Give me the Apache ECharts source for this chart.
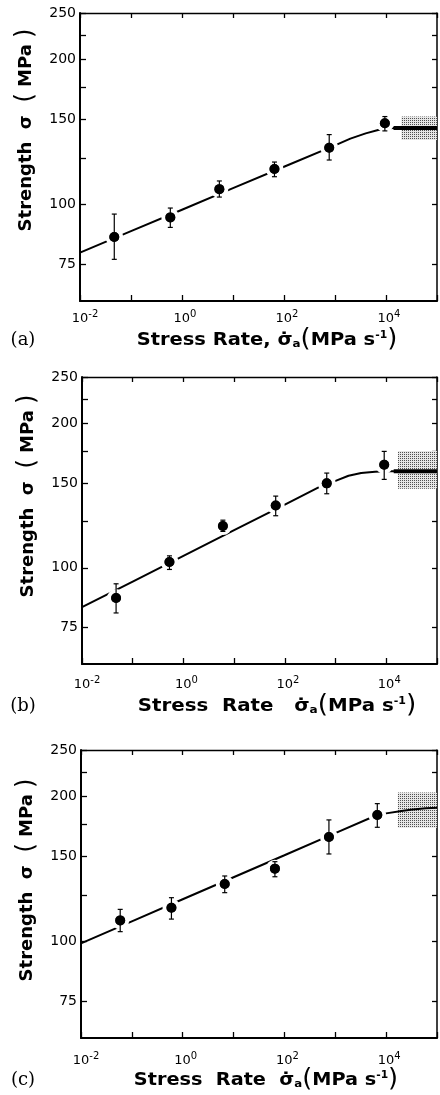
<!DOCTYPE html>
<html><head><meta charset="utf-8">
<script src="https://cdn.jsdelivr.net/npm/echarts@6/dist/echarts.min.js"></script>
<style>html,body{margin:0;padding:0;background:#fff}#c{width:440px;height:1095px}</style>
</head><body><div id="c"></div>
<script>
// ---------- Panel (a) ----------
const aRate = [0.047, 0.59, 5.4, 65, 770, 9500];
const aStrength = [85.6, 94.0, 107.6, 118.5, 131.2, 147.5];
const aLow = [76.9, 89.6, 103.6, 114.2, 123.7, 142.2];
const aHigh = [95.5, 98.3, 111.9, 122.5, 139.7, 152.3];
const aCurveRate = [0.01, 0.1, 1, 10, 100, 1000, 2000, 4000, 7000, 10000, 14000, 100000];
const aCurveStrength = [79.4, 88.0, 97.5, 108.1, 119.8, 132.7, 137.0, 140.5, 142.8, 143.8, 144.2, 144.2];
const aBoxRate = [20000, 100000];
const aBoxStrength = [136.1, 152.3];
const aPlateauRate = [14000, 100000];
const aPlateauStrength = [144.2, 144.2];

// ---------- Panel (b) ----------
const bRate = [0.047, 0.53, 6.0, 66, 670, 9100];
const bStrength = [86.5, 102.8, 122.2, 134.9, 150.0, 164.0];
const bLow = [80.5, 99.2, 119.1, 128.4, 142.7, 152.9];
const bHigh = [92.6, 105.9, 125.7, 141.1, 157.6, 174.9];
const bCurveRate = [0.01, 0.1, 1, 10, 100, 630, 1000, 1800, 3200, 6000, 10000, 100000];
const bCurveStrength = [82.8, 93.6, 105.9, 119.8, 135.5, 149.6, 151.8, 155.6, 157.6, 158.6, 158.9, 158.9];
const bBoxRate = [17000, 100000];
const bBoxStrength = [146.2, 175.2];
const bPlateauRate = [14000, 100000];
const bPlateauStrength = [158.9, 158.9];

// ---------- Panel (c) ----------
const cRate = [0.059, 0.60, 6.7, 65, 750, 6700];
const cStrength = [110.6, 117.5, 131.6, 141.7, 164.9, 183.2];
const cLow = [104.8, 111.3, 126.3, 136.3, 152.0, 172.7];
const cHigh = [116.6, 123.3, 136.8, 146.5, 178.9, 193.4];
const cCurveRate = [0.01, 0.1, 1, 10, 100, 1000, 6300, 10000, 20000, 30000, 60000, 100000];
const cCurveStrength = [99.1, 110.1, 122.4, 136.0, 151.1, 167.9, 182.7, 184.6, 186.8, 187.8, 189.2, 189.7];
const cBoxRate = [17000, 100000];
const cBoxStrength = [172.4, 203.9];

// ---------- Axes ----------
const xRange = [0.01, 100000];
const yRange = [63, 250];
const yTickLabels = [75, 100, 150, 200, 250];
const yTickMarks = [75, 100, 125, 150, 175, 200, 225, 250];
const panelLabels = ['(a)', '(b)', '(c)'];
const yTitle = 'Strength  σ  ';
const xTitles = ['Stress Rate, ', 'Stress  Rate   ', 'Stress  Rate  '];

const chart = echarts.init(document.getElementById('c'), null, {renderer: 'canvas'});

// stipple pattern
const pc = document.createElement('canvas');
pc.width = 2; pc.height = 2;
const pctx = pc.getContext('2d');
pctx.fillStyle = '#e6e6e6'; pctx.fillRect(0, 0, 2, 2);
pctx.fillStyle = '#505050'; pctx.fillRect(0, 0, 1, 1);
const stipple = {image: pc, repeat: 'repeat'};

const grids = [
  {left: 80, top: 13, width: 359, height: 288},
  {left: 82, top: 377, width: 357, height: 287},
  {left: 81, top: 750, width: 357, height: 288}
];
const xLabelMargins = [8, 11, 13];

const FONT = 'DejaVu Sans';
const xAxes = [], yAxes = [];
grids.forEach((g, i) => {
  xAxes.push({
    gridIndex: i, type: 'log', logBase: 10, min: xRange[0], max: xRange[1], position: 'bottom',
    axisLine: {lineStyle: {color: '#000', width: 2}},
    axisTick: {inside: true, length: 6, lineStyle: {color: '#000', width: 1.3}},
    splitLine: {show: false},
    axisLabel: {
      margin: xLabelMargins[i], color: '#000',
      formatter: v => {
        const e = Math.round(Math.log10(v));
        if (e % 2 !== 0) return '';
        return '{' + (e < 0 ? 'w2' : 'w1') + '| }{b|10}{s|' + e + '}';
      },
      rich: {
        w1: {width: 6, fontSize: 10},
        w2: {width: 10, fontSize: 10},
        b: {fontSize: 13, fontFamily: FONT, color: '#000'},
        s: {fontSize: 10, fontFamily: FONT, color: '#000', padding: [0, 0, 9, 0]}
      }
    }
  });
  xAxes.push({
    gridIndex: i, type: 'log', logBase: 10, min: xRange[0], max: xRange[1], position: 'top',
    axisLine: {lineStyle: {color: '#000', width: 1.3}},
    axisTick: {inside: true, length: 5, lineStyle: {color: '#000', width: 1.3}},
    axisLabel: {show: false}, splitLine: {show: false}
  });
  yAxes.push({
    gridIndex: i, type: 'log', logBase: 10, min: yRange[0], max: yRange[1], position: 'left',
    axisLine: {lineStyle: {color: '#000', width: 2}},
    axisTick: {inside: true, length: 6, customValues: yTickMarks, lineStyle: {color: '#000', width: 1.3}},
    axisLabel: {customValues: yTickLabels, margin: 4, color: '#000', fontSize: 14, fontFamily: FONT},
    splitLine: {show: false}
  });
  yAxes.push({
    gridIndex: i, type: 'log', logBase: 10, min: yRange[0], max: yRange[1], position: 'right',
    axisLine: {lineStyle: {color: '#000', width: 1.5}},
    axisTick: {inside: true, length: 5, customValues: yTickMarks, lineStyle: {color: '#000', width: 1.3}},
    axisLabel: {show: false}, splitLine: {show: false}
  });
});

function zip(xs, ys) { return xs.map((x, i) => [x, ys[i]]); }

function panelSeries(i, rate, strength, low, high, cRate_, cStr_, boxRate, boxStr, platRate, platStr) {
  const ax = {xAxisIndex: i * 2, yAxisIndex: i * 2};
  const s = [];
  s.push(Object.assign({
    type: 'line', data: zip(cRate_, cStr_), showSymbol: false, smooth: false,
    lineStyle: {color: '#000', width: 2}, z: 2, silent: true,
    markArea: {silent: true, itemStyle: {color: stipple},
      data: [[{coord: [boxRate[0], boxStr[0]]}, {coord: [boxRate[1], boxStr[1]]}]]}
  }, ax));
  if (platRate) {
    s.push(Object.assign({
      type: 'line', data: zip(platRate, platStr), showSymbol: false,
      lineStyle: {color: '#000', width: 4}, z: 3, silent: true
    }, ax));
  }
  s.push(Object.assign({
    type: 'scatter', data: zip(rate, strength), symbol: 'circle', symbolSize: 14,
    itemStyle: {color: '#000', borderColor: '#fff', borderWidth: 4, opacity: 1}, z: 4
  }, ax));
  s.push(Object.assign({
    type: 'custom', z: 5,
    data: rate.map((x, k) => [x, low[k], high[k]]),
    encode: {x: 0, y: [1, 2]},
    renderItem: (params, api) => {
      const p1 = api.coord([api.value(0), api.value(1)]);
      const p2 = api.coord([api.value(0), api.value(2)]);
      const w = 2.5, st = {stroke: '#000', lineWidth: 1.2};
      return {type: 'group', children: [
        {type: 'line', shape: {x1: p1[0], y1: p1[1], x2: p2[0], y2: p2[1]}, style: st},
        {type: 'line', shape: {x1: p1[0] - w, y1: p1[1], x2: p1[0] + w, y2: p1[1]}, style: st},
        {type: 'line', shape: {x1: p2[0] - w, y1: p2[1], x2: p2[0] + w, y2: p2[1]}, style: st}
      ]};
    }
  }, ax));
  s.push(Object.assign({
    type: 'scatter', data: zip(rate, strength), symbol: 'circle', symbolSize: 10,
    itemStyle: {color: '#000'}, z: 6
  }, ax));
  return s;
}

const series = [].concat(
  panelSeries(0, aRate, aStrength, aLow, aHigh, aCurveRate, aCurveStrength, aBoxRate, aBoxStrength, aPlateauRate, aPlateauStrength),
  panelSeries(1, bRate, bStrength, bLow, bHigh, bCurveRate, bCurveStrength, bBoxRate, bBoxStrength, bPlateauRate, bPlateauStrength),
  panelSeries(2, cRate, cStrength, cLow, cHigh, cCurveRate, cCurveStrength, cBoxRate, cBoxStrength, null, null)
);

const titleRich = {
  t: {fontSize: 18, fontWeight: 'bold', fontFamily: FONT, color: '#000'},
  p: {fontSize: 24, fontWeight: 'normal', fontFamily: FONT, color: '#000'},
  sub: {fontSize: 11, fontWeight: 'bold', fontFamily: FONT, color: '#000', padding: [9, 0, 0, 0]},
  sup: {fontSize: 10, fontWeight: 'bold', fontFamily: FONT, color: '#000', padding: [0, 0, 9, 0]}
};

const yNamePos = [[26, 130], [28, 496], [27, 880]];
const xNamePos = [[267, 340], [277, 706], [266, 1080]];
const xNameScale = [1.08, 1.1, 1.07];
const labelPos = [[23, 340], [23, 706], [23, 1080]];
const graphics = [];
for (let i = 0; i < 3; i++) {
  graphics.push({
    type: 'text', x: yNamePos[i][0], y: yNamePos[i][1], rotation: Math.PI / 2, scaleX: 1.0,
    style: {text: '{t|' + yTitle + '}{p|(}{t| MPa }{p|)}', rich: titleRich,
      align: 'center', verticalAlign: 'middle', textAlign: 'center', textVerticalAlign: 'middle'}
  });
  graphics.push({
    type: 'text', x: xNamePos[i][0], y: xNamePos[i][1], scaleX: xNameScale[i],
    style: {text: '{t|' + xTitles[i] + 'σ\u0307}{sub|a}{p|(}{t|MPa s}{sup|-1}{p|)}', rich: titleRich,
      align: 'center', verticalAlign: 'middle', textAlign: 'center', textVerticalAlign: 'middle'}
  });
  graphics.push({
    type: 'text', x: labelPos[i][0], y: labelPos[i][1],
    style: {text: panelLabels[i], fontSize: 18, fontFamily: 'DejaVu Serif', fill: '#000',
      align: 'center', verticalAlign: 'middle', textAlign: 'center', textVerticalAlign: 'middle'}
  });
}

chart.setOption({
  animation: false,
  backgroundColor: '#fff',
  grid: grids,
  xAxis: xAxes,
  yAxis: yAxes,
  series: series,
  graphic: graphics
});
</script>
</body></html>
